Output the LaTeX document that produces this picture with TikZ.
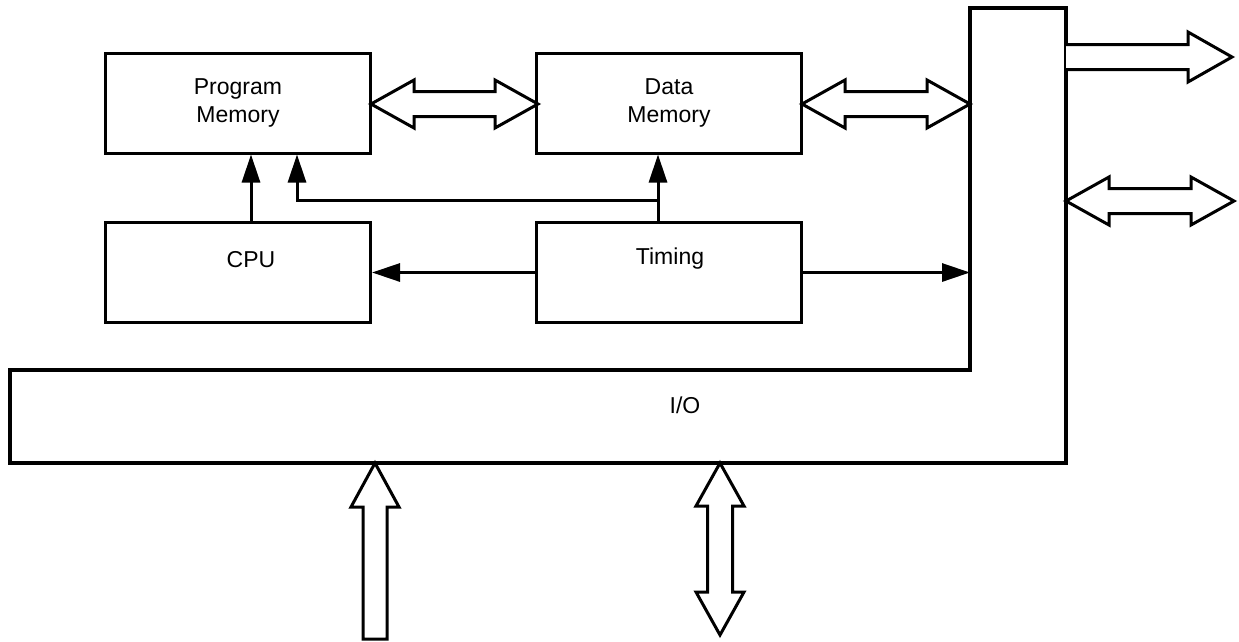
\documentclass[tikz,border=0pt]{standalone}
\usepackage{fontspec}
\setmainfont{Liberation Sans}
\usetikzlibrary{arrows.meta}
\tikzset{
  blk/.style={draw, line width=3pt, minimum width=265pt, minimum height=100pt, inner sep=0pt},
  lbl/.style={font=\fontsize{23}{28}\selectfont, align=center, inner sep=0pt},
  sig/.style={line width=3pt, -{Triangle[length=28pt,width=18pt]}},
  hollow/.style={draw, line width=3pt, fill=white, line join=miter},
}
% horizontal double hollow arrow: x1, x2, y
\newcommand\hollowDH[3]{%
  \draw[hollow] (#1,#3) -- ++(43,-24) -- ++(0,11.5) -- (#2-43,#3-12.5) -- ++(0,-11.5) -- (#2,#3)
    -- (#2-43,#3+24) -- ++(0,-11.5) -- (#1+43,#3+12.5) -- ++(0,11.5) -- cycle;}
% horizontal single hollow arrow to the right: x1, x2, y
\newcommand\hollowSR[3]{%
  \draw[hollow] (#1,#3-12.5) -- (#2-44,#3-12.5) -- ++(0,-12.5) -- (#2,#3)
    -- (#2-44,#3+25) -- ++(0,-12.5) -- (#1,#3+12.5);}
% vertical double hollow arrow: x, y1(top), y2(bottom)
\newcommand\hollowDV[3]{%
  \draw[hollow] (#1,#2) -- ++(24,43) -- ++(-11.5,0) -- (#1+12.5,#3-43) -- ++(11.5,0) -- (#1,#3)
    -- (#1-24,#3-43) -- ++(11.5,0) -- (#1-12.5,#2+43) -- ++(-11.5,0) -- cycle;}
% vertical single hollow arrow pointing up: x, y1(tip), y2(bottom)
\newcommand\hollowSU[3]{%
  \draw[hollow] (#1,#2) -- ++(24,44) -- ++(-12,0) -- (#1+12,#3) -- (#1-12,#3) -- (#1-12,#2+44) -- ++(-12,0) -- cycle;}
\begin{document}
\begin{tikzpicture}[x=1pt,y=-1pt]
\useasboundingbox (0,0) rectangle (1239,641);
% I/O L-shaped block
\coordinate (io1) at (10,370);
\coordinate (io2) at (970,370);
\coordinate (io3) at (970,8);
\coordinate (io4) at (1066,8);
\coordinate (io5) at (1066,463);
\coordinate (io6) at (10,463);
\draw[line width=3.5pt, line join=miter] (io1) -- (io2) -- (io3) -- (io4) -- (io5) -- (io6) -- cycle;
\node[lbl] (io) at (685,405) {I/O};
% blocks
\node[blk] (pm) at (237.5,103) {};
\node[blk] (dm) at (669,103) {};
\node[blk] (cpu) at (238,272.5) {};
\node[blk] (tim) at (669,272.5) {};
\node[lbl] (pmt) at (238,103) {Program\\Memory};
\node[lbl] (dmt) at (669,103) {Data\\Memory};
\node[lbl] (cput) at (251,260) {CPU};
\node[lbl] (timt) at (670,259) {Timing};
% signal arrows
\draw[sig] (251,222.5) -- (251,154.5);
\coordinate (split) at (658,200);
\draw[sig] (658,222.5) -- (658,154.5);
\draw[line width=3pt, -{Triangle[length=28pt,width=18pt]}, line join=miter] (split) -- (297,200) -- (297,154.5);
\draw[sig] (tim.west) -- (cpu.east);
\draw[sig] (tim.east) -- (io2 |- tim.east);
% hollow bus arrows
\hollowDH{371}{538}{104}
\hollowDH{802}{970}{104}
\hollowSR{1066}{1232}{57}
\hollowDH{1066}{1234}{201}
\hollowSU{375}{463}{639}
\hollowDV{720}{463}{635}
\end{tikzpicture}
\end{document}
